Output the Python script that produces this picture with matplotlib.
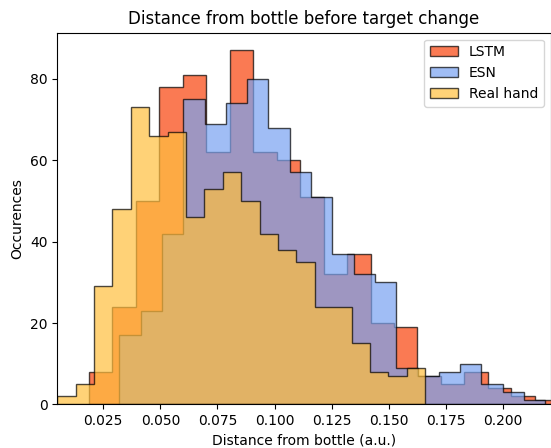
import numpy as np
import matplotlib
matplotlib.use("Agg")
import matplotlib.pyplot as plt

# Histogram counts (20 bins each)
lstm_counts = [8, 24, 50, 78, 81, 62, 87, 62, 60, 51, 32, 37, 20, 19, 7, 5, 8, 4, 2, 1]
esn_counts = [17, 23, 42, 75, 69, 74, 80, 68, 57, 51, 37, 32, 30, 9, 7, 8, 10, 5, 3, 1]
real_counts = [2, 5, 29, 48, 73, 66, 67, 46, 53, 57, 50, 42, 38, 35, 24, 24, 15, 8, 7, 9]

# Bin ranges (a.u.)
lstm_range = (0.01865, 0.22432)
esn_range = (0.03201, 0.21866)
real_range = (0.004846, 0.16596)

labels = ["LSTM", "ESN", "Real hand"]
colors = ["#F8420A", "#78A2F1", "#FFBF3E"]

fig = plt.figure(figsize=(5.51, 4.48), dpi=100)
ax = fig.add_axes([57.3 / 551, 1 - 404.4 / 448, (550.5 - 57.3) / 551, (404.4 - 32.7) / 448])

for counts, rng, lab, col in zip([lstm_counts, esn_counts, real_counts],
                                 [lstm_range, esn_range, real_range], labels, colors):
    edges = np.linspace(rng[0], rng[1], len(counts) + 1)
    centers = 0.5 * (edges[:-1] + edges[1:])
    ax.hist(centers, bins=edges, weights=counts, histtype="stepfilled",
            alpha=0.7, facecolor=col, edgecolor="black", linewidth=1.0, label=lab)

ax.set_xlim(0.004846, 0.2209)
ax.set_title("Distance from bottle before target change")
ax.set_xlabel("Distance from bottle (a.u.)")
ax.set_ylabel("Occurences")
ax.set_xticks([0.025, 0.050, 0.075, 0.100, 0.125, 0.150, 0.175, 0.200])
ax.legend(loc="upper right")

fig.savefig("out.png", dpi=100)
